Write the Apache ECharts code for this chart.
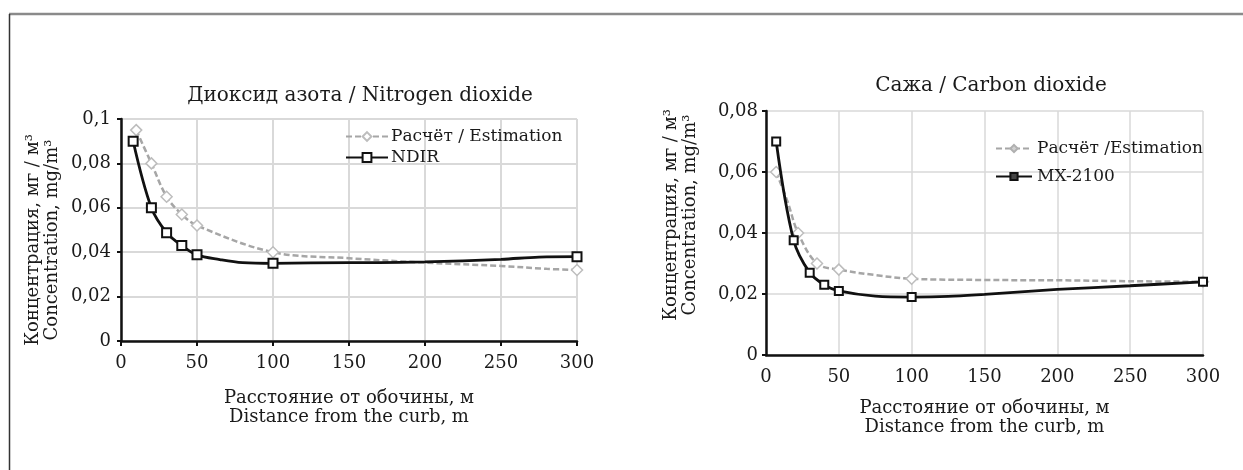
<!DOCTYPE html>
<html><head><meta charset="utf-8">
<script src="https://cdn.jsdelivr.net/npm/echarts@6/dist/echarts.min.js"></script>
<style>html,body{margin:0;padding:0;background:#fff}#c{width:1243px;height:470px}</style>
</head><body><div id="c"></div>
<script>
// ---- Data ----
const xTicks = [0, 50, 100, 150, 200, 250, 300];
// Left: Nitrogen dioxide
const no2EstX   = [10, 20, 30, 40, 50, 100, 150, 200, 250, 280, 300];
const no2EstY   = [0.095, 0.080, 0.065, 0.057, 0.052, 0.040, 0.0373, 0.0353, 0.0338, 0.0325, 0.032];
const no2EstMark= [1, 1, 1, 1, 1, 1, 0, 0, 0, 0, 1];
const no2NdirX  = [8, 20, 30, 40, 50, 65, 80, 100, 150, 170, 200, 250, 275, 300];
const no2NdirY  = [0.090, 0.060, 0.0488, 0.043, 0.0388, 0.0367, 0.0353, 0.035, 0.0353, 0.0353, 0.0356, 0.0368, 0.0378, 0.038];
const no2NdirMark=[1, 1, 1, 1, 1, 0, 0, 1, 0, 0, 0, 0, 0, 1];
// Right: Soot
const sootEstX  = [7, 15, 22, 35, 50, 75, 100, 150, 200, 250, 300];
const sootEstY  = [0.060, 0.050, 0.040, 0.030, 0.028, 0.0262, 0.025, 0.0246, 0.0245, 0.0242, 0.024];
const sootEstMark=[1, 0, 1, 1, 1, 0, 1, 0, 0, 0, 1];
const sootMxX   = [7, 19, 30, 40, 50, 75, 100, 125, 150, 200, 250, 300];
const sootMxY   = [0.070, 0.0376, 0.027, 0.023, 0.021, 0.0193, 0.019, 0.0192, 0.0199, 0.0215, 0.0227, 0.024];
const sootMxMark= [1, 1, 1, 1, 1, 0, 1, 0, 0, 0, 0, 1];

const titles = ['Диоксид азота / Nitrogen dioxide', 'Сажа / Carbon dioxide'];
const legendL = ['Расчёт / Estimation', 'NDIR'];
const legendR = ['Расчёт /Estimation', 'MX-2100'];
const yName = 'Концентрация, мг / м³\nConcentration, mg/m³';
const xName = 'Расстояние от обочины, м\nDistance from the curb, m';

const FONT = 'DejaVu Serif';
const TXT = '#1a1a1a';
function build(xs, ys, marks) {
  return xs.map((x, i) => marks[i] ? [x, ys[i]] : {value: [x, ys[i]], symbol: 'none'});
}
const fmtY = v => v === 0 ? '0' : String(+v.toFixed(2)).replace('.', ',');

function xAx(idx, gw, gap) {
  return {
    gridIndex: idx, type: 'value', min: 0, max: 300, interval: 50,
    name: xName, nameLocation: 'middle', nameGap: gap,
    nameTextStyle: {fontFamily: FONT, fontSize: 18, color: TXT, lineHeight: 19, verticalAlign: 'top'},
    axisLine: {lineStyle: {color: '#111', width: 2.5}},
    axisTick: {show: idx === 0, length: 5, lineStyle: {color: '#111', width: 2}},
    axisLabel: {fontFamily: FONT, fontSize: 18, color: TXT, margin: 13},
    splitLine: {lineStyle: {color: '#d9d9d9', width: gw}}
  };
}
function yAx(idx, max, gw, gap, pad, lm) {
  return {
    gridIndex: idx, type: 'value', min: 0, max: max, interval: 0.02,
    name: yName, nameLocation: 'middle', nameRotate: 90, nameGap: gap,
    nameTextStyle: {fontFamily: FONT, fontSize: 18, color: TXT, lineHeight: 19, padding: pad},
    axisLine: {show: true, lineStyle: {color: '#111', width: 2.5}},
    axisTick: {show: true, length: 4, lineStyle: {color: '#111', width: 2}},
    axisLabel: {fontFamily: FONT, fontSize: 18, color: TXT, margin: lm, formatter: fmtY},
    splitLine: {lineStyle: {color: '#d9d9d9', width: gw}}
  };
}
const estStyle = (sz) => ({
  type: 'line', smooth: 0.35, symbol: 'diamond', symbolSize: sz,
  lineStyle: {color: '#a6a6a6', width: 2.5, type: [6, 3]},
  itemStyle: {color: '#fff', borderColor: '#bdbdbd', borderWidth: 1.5},
  z: 2
});
const measStyle = (sz) => ({
  type: 'line', smooth: 0.35, symbol: 'rect', symbolSize: sz,
  lineStyle: {color: '#111', width: 2.8},
  itemStyle: {color: '#fff', borderColor: '#111', borderWidth: 2},
  z: 3
});

const chart = echarts.init(document.getElementById('c'), null, {renderer: 'canvas'});
chart.setOption({
  animation: false,
  backgroundColor: '#fff',
  graphic: [
    {type: 'line', shape: {x1: 9, y1: 14, x2: 1243, y2: 14}, style: {stroke: '#8a8a8a', lineWidth: 2.5}},
    {type: 'line', shape: {x1: 9.5, y1: 14, x2: 9.5, y2: 470}, style: {stroke: '#333', lineWidth: 1.5}}
  ],
  title: [
    {text: titles[0], left: 355, top: 81, textAlign: 'center', textStyle: {fontFamily: FONT, fontSize: 20, fontWeight: 'normal', color: TXT}},
    {text: titles[1], left: 986, top: 71, textAlign: 'center', textStyle: {fontFamily: FONT, fontSize: 20, fontWeight: 'normal', color: TXT}}
  ],
  legend: [
    {data: legendL, orient: 'vertical', left: 340, top: 123, itemWidth: 42, itemHeight: 11, itemGap: 4,
     textStyle: {fontFamily: FONT, fontSize: 17, color: TXT, padding: [0, 0, 0, -2]}},
    {data: [
        {name: legendR[0], itemStyle: {color: '#d0d0d0', borderColor: '#b0b0b0'}},
        {name: legendR[1], itemStyle: {color: '#444', borderColor: '#111'}}
      ],
     orient: 'vertical', left: 990, top: 135, itemWidth: 36, itemHeight: 9, itemGap: 11,
     textStyle: {fontFamily: FONT, fontSize: 17, color: TXT}}
  ],
  grid: [
    {left: 121, right: 666, top: 119, bottom: 129},
    {left: 766, right: 40, top: 111, bottom: 115}
  ],
  xAxis: [xAx(0, 2, 48), xAx(1, 1.5, 44)],
  yAxis: [yAx(0, 0.1, 2, 59, [0, 20, 0, 0], 10), yAx(1, 0.08, 1.5, 66, [0, 0, 0, 36], 8)],
  series: [
    Object.assign(estStyle(11), {name: legendL[0], xAxisIndex: 0, yAxisIndex: 0, data: build(no2EstX, no2EstY, no2EstMark)}),
    Object.assign(measStyle(9), {name: legendL[1], xAxisIndex: 0, yAxisIndex: 0, data: build(no2NdirX, no2NdirY, no2NdirMark)}),
    Object.assign(estStyle(11), {name: legendR[0], xAxisIndex: 1, yAxisIndex: 1, data: build(sootEstX, sootEstY, sootEstMark)}),
    Object.assign(measStyle(8), {name: legendR[1], xAxisIndex: 1, yAxisIndex: 1, data: build(sootMxX, sootMxY, sootMxMark)})
  ]
});
</script></body></html>
